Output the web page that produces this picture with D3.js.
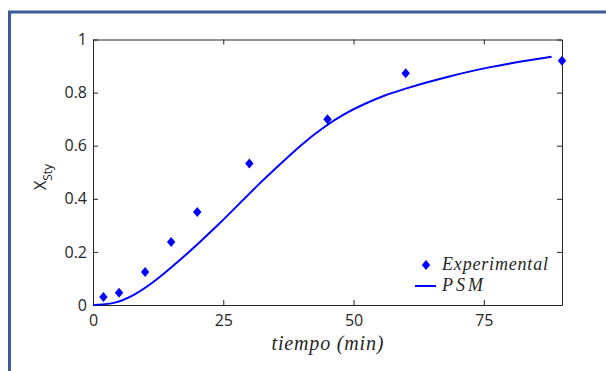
<!DOCTYPE html>
<html>
<head>
<meta charset="utf-8">
<script src="https://d3js.org/d3.v7.min.js"></script>
<style>
  html, body { margin: 0; padding: 0; background: #fff; }
  svg { display: block; }
  .tick text { font-family: "Open Sans", sans-serif; font-size: 16px; fill: #262626; }
  .domain, .tick line { stroke: #262626; stroke-width: 1; }
</style>
</head>
<body>
<svg id="chart"></svg>
<script>
// experimental points
const expTime = [2, 5, 10, 15, 20, 30, 45, 60, 90];
const expX = [0.03, 0.046, 0.124, 0.237, 0.35, 0.533, 0.70, 0.873, 0.92];

// PSM model curve
const psmTime = [0, 4, 8, 12, 16, 20, 24, 28, 32, 36, 40, 44, 48, 52, 56, 60, 64, 68, 72, 76, 80, 84, 88];
const psmX = [0, 0.008, 0.04, 0.093, 0.158, 0.228, 0.302, 0.38, 0.458, 0.532, 0.603, 0.665, 0.716, 0.756, 0.789, 0.815, 0.838, 0.859, 0.878, 0.895, 0.91, 0.923, 0.935];

const xTicks = [0, 25, 50, 75];
const yTicks = [0, 0.2, 0.4, 0.6, 0.8, 1];
const legendLabels = ['Experimental', 'PSM'];

const width = 606, height = 371;
const margin = { top: 39.5, right: 44, bottom: 66, left: 93 };

const svg = d3.select('#chart').attr('width', width).attr('height', height);

// outer frame of the figure
svg.append('rect')
  .attr('x', 9.5).attr('y', 12)
  .attr('width', width + 10).attr('height', height + 10)
  .attr('fill', '#fff')
  .attr('stroke', '#3b5b9b')
  .attr('stroke-width', 3);

const x = d3.scaleLinear().domain([0, 90]).range([margin.left, width - margin.right]);
const y = d3.scaleLinear().domain([0, 1]).range([height - margin.bottom, margin.top]);

const fmt = d => d3.format('~g')(d);

svg.append('g')
  .attr('transform', `translate(0,${y(0)})`)
  .call(d3.axisBottom(x).tickValues(xTicks).tickFormat(fmt).tickSizeInner(-5).tickSizeOuter(0).tickPadding(10));
svg.append('g')
  .attr('transform', `translate(0,${y(1)})`)
  .call(d3.axisTop(x).tickValues(xTicks).tickFormat('').tickSizeInner(-5).tickSizeOuter(0));
svg.append('g')
  .attr('transform', `translate(${x(0)},0)`)
  .call(d3.axisLeft(y).tickValues(yTicks).tickFormat(fmt).tickSizeInner(-5).tickSizeOuter(0).tickPadding(6));
svg.append('g')
  .attr('transform', `translate(${x(90)},0)`)
  .call(d3.axisRight(y).tickValues(yTicks).tickFormat('').tickSizeInner(-5).tickSizeOuter(0));

svg.selectAll('.tick text').attr('fill', '#262626');

// model curve
const line = d3.line()
  .x((d, i) => x(psmTime[i]))
  .y(d => y(d))
  .curve(d3.curveNatural);

svg.append('path')
  .datum(psmX)
  .attr('d', line)
  .attr('fill', 'none')
  .attr('stroke', '#0000ff')
  .attr('stroke-width', 2);

// diamond marker
const diamond = 'M0,-5L4.2,0L0,5L-4.2,0Z';

svg.append('g')
  .selectAll('path')
  .data(expX)
  .join('path')
  .attr('d', diamond)
  .attr('transform', (d, i) => `translate(${x(expTime[i])},${y(d)})`)
  .attr('fill', '#0000ff');

// axis labels
svg.append('text')
  .attr('x', (x(0) + x(90)) / 2)
  .attr('y', 350)
  .attr('text-anchor', 'middle')
  .attr('font-family', '"Liberation Serif", serif')
  .attr('font-style', 'italic')
  .attr('font-size', 20)
  .attr('fill', '#262626')
  .attr('textLength', 112)
  .attr('lengthAdjust', 'spacing')
  .text('tiempo (min)');

const yl = svg.append('text')
  .attr('transform', 'translate(46,177) rotate(-90)')
  .attr('text-anchor', 'middle')
  .attr('font-family', '"Open Sans", sans-serif')
  .attr('font-size', 16)
  .attr('fill', '#262626');
yl.append('tspan').text('X');
yl.append('tspan').attr('dy', 6).attr('font-size', 12).text('Sty');

// legend
const lg = svg.append('g');
lg.append('path')
  .attr('d', diamond)
  .attr('transform', 'translate(426,265)')
  .attr('fill', '#0000ff');
lg.append('line')
  .attr('x1', 415).attr('x2', 436)
  .attr('y1', 286).attr('y2', 286)
  .attr('stroke', '#0000ff')
  .attr('stroke-width', 2);
lg.selectAll('text')
  .data(legendLabels)
  .join('text')
  .attr('x', 442)
  .attr('y', (d, i) => i === 0 ? 269.5 : 291)
  .attr('font-family', '"Liberation Serif", serif')
  .attr('font-style', 'italic')
  .attr('font-size', 18)
  .attr('fill', '#262626')
  .attr('textLength', (d, i) => i === 0 ? 106 : 41)
  .attr('lengthAdjust', 'spacing')
  .text(d => d);
</script>
</body>
</html>
